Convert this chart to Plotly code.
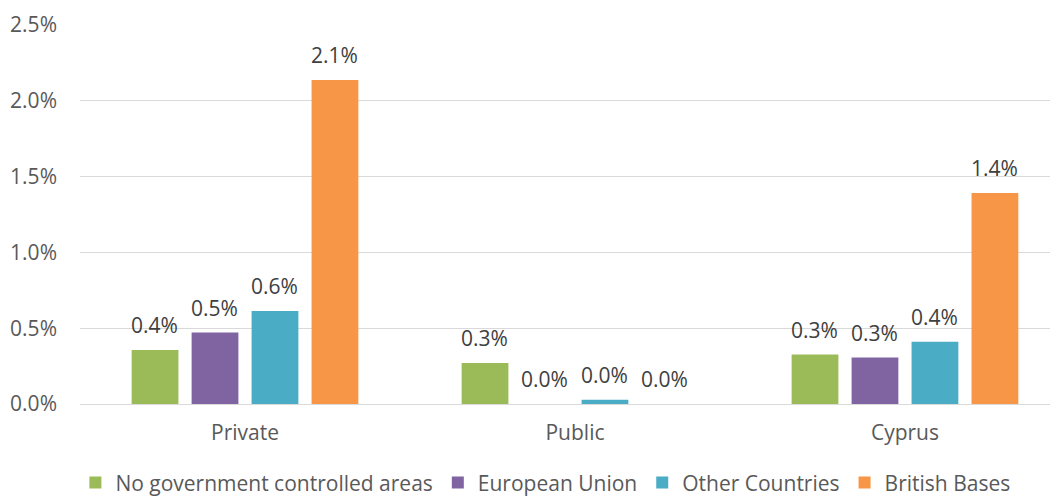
import plotly.graph_objects as go

categories = ["Private", "Public", "Cyprus"]
series_names = ["No government controlled areas", "European Union", "Other Countries", "British Bases"]
no_gov = [0.357, 0.271, 0.326]
eu = [0.471, 0.0, 0.306]
other = [0.614, 0.028, 0.411]
british = [2.138, 0.0, 1.392]
colors = ["#9BBB59", "#8064A2", "#4BACC6", "#F79646"]
y_ticks = [0, 0.5, 1.0, 1.5, 2.0, 2.5]
y_tick_text = ["0.0%", "0.5%", "1.0%", "1.5%", "2.0%", "2.5%"]

FONT = "Open Sans, sans-serif"
FS = 21

# horizontal offsets (px) of each series' bar centre within its category group
series_offsets = [-90, -30, 30, 90]

fig = go.Figure()
for name, vals, col, off in zip(series_names, [no_gov, eu, other, british], colors, series_offsets):
    fig.add_trace(go.Bar(
        x=categories, y=vals, name=name,
        marker=dict(color=col, line=dict(width=0)),
    ))
    for c, v in zip(categories, vals):
        fig.add_annotation(
            x=c, y=v, xref="x", yref="y", text=f"{v:.1f}%", showarrow=False,
            xshift=off, yshift=25, yanchor="middle", xanchor="center",
            font=dict(family=FONT, size=FS, color="#404040"),
        )

fig.update_layout(
    width=1058, height=498,
    margin=dict(l=72, r=0, t=17, b=102, autoexpand=False),
    paper_bgcolor="white", plot_bgcolor="white",
    barmode="group", bargap=0.273, bargroupgap=0.22,
    font=dict(family=FONT, size=FS, color="#595959"),
    xaxis=dict(range=[-0.5, 2.488], showgrid=False, showline=False, ticks="",
               automargin=False, ticklabelstandoff=14,
               tickfont=dict(size=FS, color="#595959")),
    yaxis=dict(range=[0, 2.5], tickvals=y_ticks, ticktext=y_tick_text,
               showgrid=True, gridcolor="#d9d9d9", gridwidth=1.3,
               zeroline=True, zerolinecolor="#d9d9d9", zerolinewidth=1.3,
               showline=False, ticks="", ticklabelstandoff=22, automargin=False,
               tickfont=dict(size=FS, color="#595959")),
    legend=dict(orientation="h", x=0.472, xanchor="center", y=-0.208, yanchor="middle",
                font=dict(size=FS, color="#595959"), itemwidth=30, traceorder="normal"),
    showlegend=True,
)

fig.write_html("out.html")
